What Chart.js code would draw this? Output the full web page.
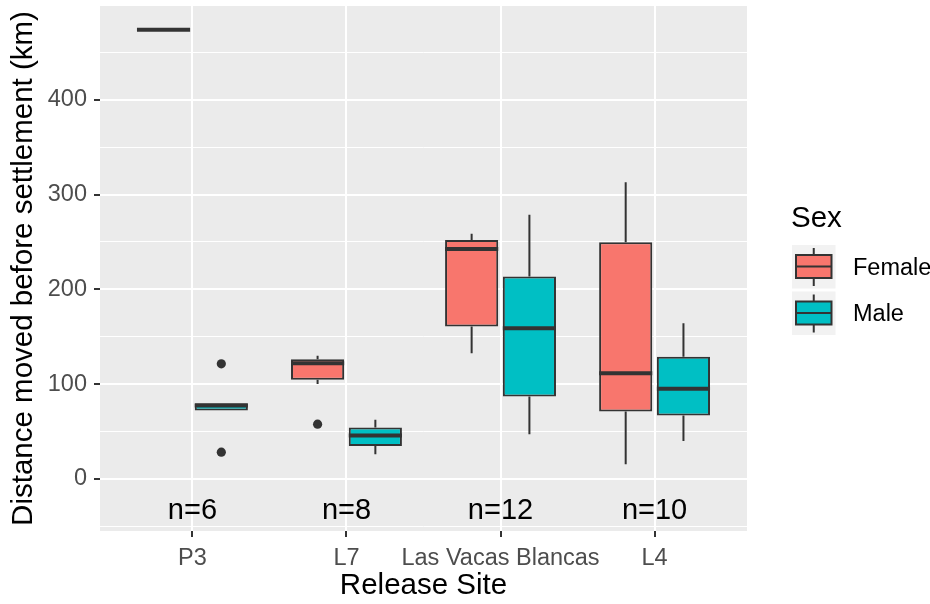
<!DOCTYPE html>
<html>
<head>
<meta charset="utf-8">
<script src="https://cdn.jsdelivr.net/npm/chart.js@4"></script>
<style>
  body { margin: 0; background: #ffffff; }
  #wrap { width: 930px; height: 604px; }
</style>
</head>
<body>
<div id="wrap"><canvas id="boxChart" width="930" height="604"></canvas></div>
<script>
// release sites along the x axis
const sites = ['P3', 'L7', 'Las Vacas Blancas', 'L4'];
const sampleSizes = [6, 8, 12, 10];
const sampleLabelY = -34;
const yTickValues = [0, 100, 200, 300, 400];

// Female: whisker low, Q1, median, Q3, whisker high, outliers
const femaleLow = [473.9, 100, 132.6, 15.5];
const femaleQ1 = [473.9, 104.5, 160.8, 71];
const femaleMedian = [473.9, 122, 242.7, 111.5];
const femaleQ3 = [473.9, 126.3, 252, 249.8];
const femaleHigh = [473.9, 129.8, 258.6, 313];
const femaleOutliers = [[], [57.7], [], []];

// Male
const maleLow = [72.1, 26, 47.2, 40];
const maleQ1 = [72.1, 34.8, 86.9, 66.8];
const maleMedian = [77.4, 45.7, 159, 95];
const maleQ3 = [79.9, 54.2, 213.5, 129];
const maleHigh = [79.9, 62.3, 278.6, 164.3];
const maleOutliers = [[121.4, 28.2], [], [], []];

const groups = [
    { label: 'Female', color: '#F8766D', low: femaleLow, q1: femaleQ1, med: femaleMedian, q3: femaleQ3, high: femaleHigh, out: femaleOutliers },
    { label: 'Male', color: '#00BFC4', low: maleLow, q1: maleQ1, med: maleMedian, q3: maleQ3, high: maleHigh, out: maleOutliers }
];

const INK = '#333333';
const FONT = '"Liberation Sans", Arial, sans-serif';
const isSite = v => Number.isInteger(v) && v >= 1 && v <= sites.length;

const boxPlugin = {
    id: 'boxes',
    beforeDraw(chart) {
        const { ctx, chartArea: a } = chart;
        ctx.save();
        ctx.fillStyle = '#EBEBEB';
        ctx.fillRect(a.left, a.top, a.right - a.left, a.bottom - a.top);
        ctx.restore();
    },
    beforeDatasetsDraw(chart) {
        // whiskers, under the boxes
        const { ctx } = chart;
        const y = chart.scales.y;
        ctx.save();
        ctx.strokeStyle = INK;
        ctx.lineWidth = 2;
        groups.forEach((g, d) => {
            chart.getDatasetMeta(d).data.forEach((bar, i) => {
                ctx.beginPath();
                ctx.moveTo(bar.x, y.getPixelForValue(g.low[i]));
                ctx.lineTo(bar.x, y.getPixelForValue(g.q1[i]));
                ctx.moveTo(bar.x, y.getPixelForValue(g.q3[i]));
                ctx.lineTo(bar.x, y.getPixelForValue(g.high[i]));
                ctx.stroke();
            });
        });
        ctx.restore();
    },
    afterDatasetsDraw(chart) {
        const { ctx } = chart;
        const x = chart.scales.x, y = chart.scales.y;
        ctx.save();
        // medians and outliers
        groups.forEach((g, d) => {
            chart.getDatasetMeta(d).data.forEach((bar, i) => {
                const py = y.getPixelForValue(g.med[i]);
                ctx.strokeStyle = INK;
                ctx.lineWidth = 4;
                ctx.beginPath();
                ctx.moveTo(bar.x - bar.width / 2, py);
                ctx.lineTo(bar.x + bar.width / 2, py);
                ctx.stroke();
                ctx.fillStyle = INK;
                g.out[i].forEach(v => {
                    ctx.beginPath();
                    ctx.arc(bar.x, y.getPixelForValue(v), 4.6, 0, Math.PI * 2);
                    ctx.fill();
                });
            });
        });
        // sample size labels
        ctx.fillStyle = '#000000';
        ctx.font = '29px ' + FONT;
        ctx.textAlign = 'center';
        ctx.textBaseline = 'middle';
        sampleSizes.forEach((n, i) => {
            ctx.fillText('n=' + n, x.getPixelForValue(i + 1), y.getPixelForValue(sampleLabelY));
        });
        ctx.restore();
    },
    afterDraw(chart) {
        // legend
        const { ctx } = chart;
        ctx.save();
        ctx.fillStyle = '#000000';
        ctx.font = '29.5px ' + FONT;
        ctx.textAlign = 'left';
        ctx.textBaseline = 'alphabetic';
        ctx.fillText('Sex', 791, 227);
        groups.forEach((g, k) => {
            const top = 245 + k * 46.5;
            ctx.fillStyle = '#F2F2F2';
            ctx.fillRect(792, top, 43.5, 43.5);
            ctx.strokeStyle = INK;
            ctx.lineWidth = 2;
            ctx.beginPath();
            ctx.moveTo(813.75, top + 3);
            ctx.lineTo(813.75, top + 10);
            ctx.moveTo(813.75, top + 33);
            ctx.lineTo(813.75, top + 41);
            ctx.stroke();
            ctx.fillStyle = g.color;
            ctx.fillRect(796, top + 10, 35.5, 23);
            ctx.strokeRect(796, top + 10, 35.5, 23);
            ctx.beginPath();
            ctx.moveTo(796, top + 21.5);
            ctx.lineTo(831.5, top + 21.5);
            ctx.stroke();
            ctx.fillStyle = '#000000';
            ctx.font = '23.5px ' + FONT;
            ctx.textBaseline = 'middle';
            ctx.fillText(g.label, 853, top + 23.5);
            ctx.textBaseline = 'alphabetic';
            ctx.font = '29.5px ' + FONT;
        });
        ctx.restore();
    }
};

Chart.defaults.font.family = FONT;

const ctx = document.getElementById('boxChart').getContext('2d');
new Chart(ctx, {
    type: 'bar',
    data: {
        datasets: groups.map(g => ({
            label: g.label,
            data: sites.map((_, i) => ({ x: i + 1, y: [g.q1[i], g.q3[i]] })),
            backgroundColor: g.color,
            borderColor: INK,
            borderWidth: 2,
            borderSkipped: false,
            categoryPercentage: 0.75,
            barPercentage: 0.92
        }))
    },
    options: {
        responsive: false,
        devicePixelRatio: 1,
        animation: false,
        events: [],
        layout: { padding: { top: 6, right: 183, left: 0, bottom: 0 } },
        plugins: {
            legend: { display: false },
            tooltip: { enabled: false }
        },
        scales: {
            x: {
                type: 'linear',
                min: 0.4,
                max: 4.6,
                offset: false,
                afterFit(s) { s.height = 73; s.paddingLeft = 0; s.paddingRight = 0; },
                border: { display: false },
                grid: {
                    offset: false,
                    color: c => (c.tick && isSite(c.tick.value)) ? '#FFFFFF' : 'rgba(0,0,0,0)',
                    lineWidth: 2,
                    tickColor: c => (c.tick && isSite(c.tick.value)) ? INK : 'rgba(0,0,0,0)',
                    tickLength: 6,
                    tickWidth: 2
                },
                ticks: {
                    stepSize: 1,
                    includeBounds: false,
                    autoSkip: false,
                    maxRotation: 0,
                    padding: 7,
                    color: '#4D4D4D',
                    font: { size: 23.5 },
                    callback: v => sites[v - 1] || ''
                },
                title: {
                    display: true,
                    text: 'Release Site',
                    color: '#000000',
                    font: { size: 29.5 },
                    padding: { top: 0, bottom: 0 }
                }
            },
            y: {
                min: -55,
                max: 499,
                afterFit(s) { s.width = 100; s.paddingTop = 0; s.paddingBottom = 0; },
                border: { display: false },
                grid: {
                    color: '#FFFFFF',
                    lineWidth: c => (c.tick && c.tick.value % 100 === 0) ? 2 : 1,
                    tickColor: c => (c.tick && yTickValues.includes(c.tick.value)) ? INK : 'rgba(0,0,0,0)',
                    tickLength: 6,
                    tickWidth: 2
                },
                ticks: {
                    stepSize: 50,
                    includeBounds: false,
                    autoSkip: false,
                    padding: 7,
                    color: '#4D4D4D',
                    font: { size: 23.5 },
                    callback: v => yTickValues.includes(v) ? String(v) : ''
                },
                title: {
                    display: true,
                    text: 'Distance moved before settlement (km)',
                    color: '#000000',
                    font: { size: 29.5 },
                    padding: { top: 6, bottom: 0 }
                }
            }
        }
    },
    plugins: [boxPlugin]
});
</script>
</body>
</html>
